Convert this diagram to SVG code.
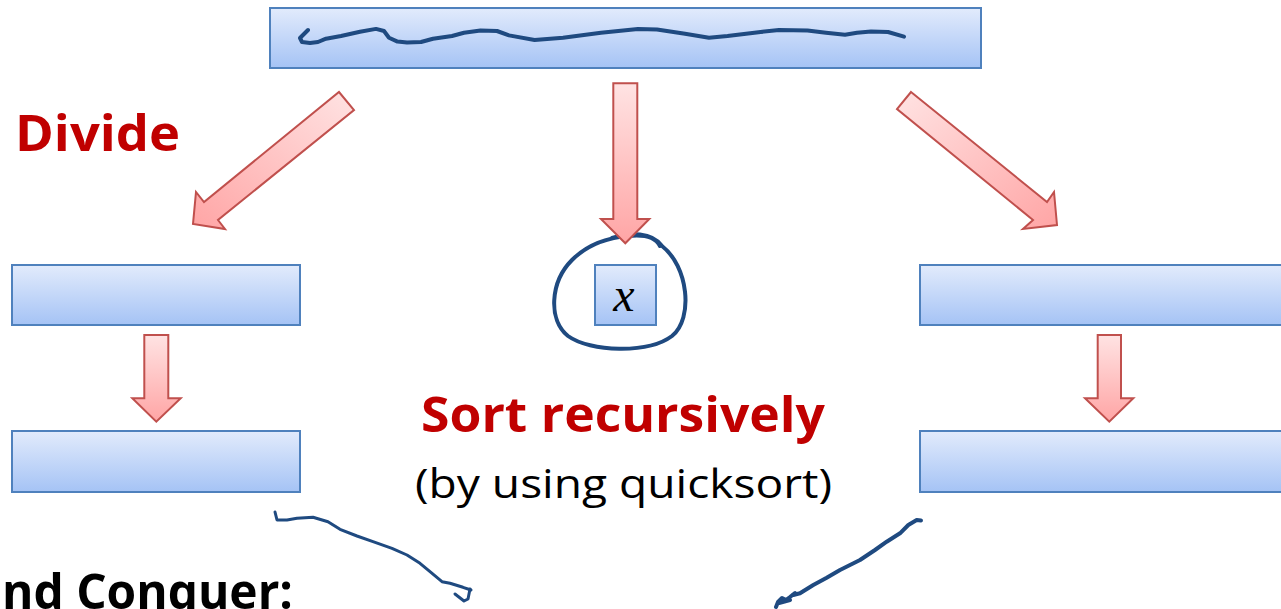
<svg xmlns="http://www.w3.org/2000/svg" width="1281" height="609" viewBox="0 0 1281 609">
  <defs>
    <linearGradient id="boxFill" x1="0" y1="0" x2="0" y2="1">
      <stop offset="0" stop-color="#E2EBFC"/>
      <stop offset="1" stop-color="#A5C3F5"/>
    </linearGradient>
    <linearGradient id="arrowDown" x1="0" y1="0" x2="0" y2="1">
      <stop offset="0" stop-color="#FFE3E3"/>
      <stop offset="1" stop-color="#FFA5A5"/>
    </linearGradient>
    <linearGradient id="arrowLeft" x1="1" y1="0" x2="0" y2="1">
      <stop offset="0" stop-color="#FFE3E3"/>
      <stop offset="1" stop-color="#FFA5A5"/>
    </linearGradient>
    <linearGradient id="arrowRight" x1="0" y1="0" x2="1" y2="1">
      <stop offset="0" stop-color="#FFE3E3"/>
      <stop offset="1" stop-color="#FFA5A5"/>
    </linearGradient>
    <style>
      .box { fill: url(#boxFill); stroke: #4F81BD; stroke-width: 2; }
      .block { stroke: #C0504D; stroke-width: 2; stroke-linejoin: miter; }
      .ink { fill: none; stroke: #1F4A80; stroke-width: 4; stroke-linecap: round; stroke-linejoin: round; }
      .ink-thin { fill: none; stroke: #1F4A80; stroke-width: 3; stroke-linecap: round; stroke-linejoin: round; }
      .title { font-family: "Open Sans", "Liberation Sans", sans-serif; font-weight: bold; fill: #C00000; }
      .note { font-family: "Open Sans", "Liberation Sans", sans-serif; fill: #000000; }
    </style>
  </defs>

  <rect width="1281" height="609" fill="#FFFFFF"/>

  <!-- input array -->
  <g id="node-input">
    <rect class="box" x="270" y="8" width="711" height="60"/>
    <path class="ink" d="M 308,30 L 300,38 L 302,42 L 310,43 L 318,42 L 326,38.7 L 341,36 L 360,31.8 L 376,28.9 L 384,31 L 389,37.7 L 397.5,41.6 L 407,42.6 L 421,42 L 433,38.7 L 452,36 L 464,32.8 L 480.5,30.5 L 497,31 L 509,35.4 L 534.6,40 L 563,37.7 L 601,32.8 L 638,28.9 L 657,29.5 L 685,33.8 L 709,37.7 L 727.5,36 L 760.6,32 L 779,30 L 807.5,30.5 L 826,32.8 L 845,34.8 L 857,32.8 L 871,31.5 L 888,32 L 904,36.7"/>
  </g>

  <!-- partition results -->
  <g id="node-left-part">
    <rect class="box" x="12" y="265" width="288" height="60"/>
  </g>
  <g id="node-pivot">
    <rect class="box" x="595" y="265" width="61" height="60"/>
    <text x="624" y="311" text-anchor="middle" font-family="Liberation Serif, DejaVu Serif, serif" font-style="italic" font-size="48" fill="#000000">x</text>
    <path class="ink" d="M 612,238 C 630,232 652,232 662,246 C 688,266 694,318 672,336 C 648,354 590,352 568,336 C 548,320 550,282 572,260 C 586,246 604,238 628,236 C 646,234 656,238 660,246"/>
  </g>
  <g id="node-right-part">
    <rect class="box" x="920" y="265" width="370" height="60"/>
  </g>

  <!-- sorted parts -->
  <g id="node-left-sorted">
    <rect class="box" x="12" y="431" width="288" height="61"/>
  </g>
  <g id="node-right-sorted">
    <rect class="box" x="920" y="431" width="370" height="61"/>
  </g>

  <!-- block arrows -->
  <g id="connectors">
    <polygon class="block" fill="url(#arrowLeft)" points="339,92 354,110 218,220 225,229 193,224 196,192 204,202"/>
    <polygon class="block" fill="url(#arrowDown)" points="613.3,83.3 637.3,83.3 637.3,219 649.3,219 625.3,243.3 601,219 613.3,219"/>
    <polygon class="block" fill="url(#arrowRight)" points="911,92 1047,202 1054,192 1057,225 1023,229 1033,220 897,109"/>
    <polygon class="block" fill="url(#arrowDown)" points="144.3,335 168.3,335 168.3,398.3 180.7,398.3 156.3,421.7 132.3,398.3 144.3,398.3"/>
    <polygon class="block" fill="url(#arrowDown)" points="1097.7,335 1121,335 1121,398.3 1133.3,398.3 1109.3,421.7 1085,398.3 1097.7,398.3"/>
  </g>

  <!-- labels -->
  <g id="labels">
    <text class="title" x="15" y="151" font-size="51" textLength="165" lengthAdjust="spacingAndGlyphs">Divide</text>
    <text class="title" x="421" y="432" font-size="49" textLength="404" lengthAdjust="spacingAndGlyphs">Sort recursively</text>
    <text class="note" x="415" y="498" font-size="40" textLength="417" lengthAdjust="spacingAndGlyphs">(by using quicksort)</text>
    <text class="note" x="2" y="609" font-size="49" font-weight="bold" textLength="291" lengthAdjust="spacingAndGlyphs">nd Conquer:</text>
  </g>

  <!-- pen strokes toward the conquer step -->
  <g id="annotations">
    <path class="ink-thin" d="M 275,512 L 277,520 L 287,520 L 297,518.3 L 313,517.3 L 328,521.7 L 340,529.3 L 357,536 L 373,541.7 L 392,548.3 L 407,555 L 420,563.3 L 430,571.7 L 442,581.7 L 450,583.3 L 463,587.3 L 471,590"/>
    <path class="ink-thin" d="M 470,589 L 468,599 L 464,601 L 455,594"/>
    <path class="ink" d="M 921,520.5 L 916.7,520 L 908.3,525 L 900,533.3 L 886.7,541.7 L 875,550 L 860,560 L 850,565 L 840,570 L 826.7,577.7 L 813.3,585 L 800,593.3 L 793.3,595"/>
    <path class="ink" d="M 795,593 L 790,597 L 786,600 L 782,598 L 778,602 L 776,607 M 779,603 L 790,600"/>
  </g>
</svg>
